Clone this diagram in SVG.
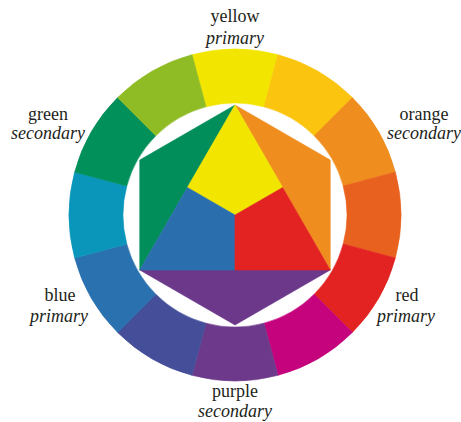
<svg xmlns="http://www.w3.org/2000/svg" width="461" height="422" viewBox="0 0 461 422">
<style>
.lbl{font-family:"Liberation Serif","Times New Roman",serif;font-size:18px;fill:#231f20;text-anchor:middle}
.it{font-style:italic}
.seg path{stroke-width:0.6;stroke-linejoin:round}
</style>
<rect width="461" height="422" fill="#ffffff"/>
<g id="ring" class="seg">
<path id="seg-yellow" d="M192.036 54.656 A166 166 0 0 1 277.964 54.656 L263.988 106.816 A112 112 0 0 0 206.012 106.816 Z" fill="#f2e500" stroke="#f2e500"/>
<path id="seg-yellow-orange" d="M277.964 54.656 A166 166 0 0 1 352.380 97.620 L314.196 135.804 A112 112 0 0 0 263.988 106.816 Z" fill="#fbc40e" stroke="#fbc40e"/>
<path id="seg-orange" d="M352.380 97.620 A166 166 0 0 1 395.344 172.036 L343.184 186.012 A112 112 0 0 0 314.196 135.804 Z" fill="#ef8e1e" stroke="#ef8e1e"/>
<path id="seg-red-orange" d="M395.344 172.036 A166 166 0 0 1 395.344 257.964 L343.184 243.988 A112 112 0 0 0 343.184 186.012 Z" fill="#e9611f" stroke="#e9611f"/>
<path id="seg-red" d="M395.344 257.964 A166 166 0 0 1 352.380 332.380 L314.196 294.196 A112 112 0 0 0 343.184 243.988 Z" fill="#e22322" stroke="#e22322"/>
<path id="seg-magenta" d="M352.380 332.380 A166 166 0 0 1 277.964 375.344 L263.988 323.184 A112 112 0 0 0 314.196 294.196 Z" fill="#c4037d" stroke="#c4037d"/>
<path id="seg-purple" d="M277.964 375.344 A166 166 0 0 1 192.036 375.344 L206.012 323.184 A112 112 0 0 0 263.988 323.184 Z" fill="#6d398b" stroke="#6d398b"/>
<path id="seg-blue-violet" d="M192.036 375.344 A166 166 0 0 1 117.620 332.380 L155.804 294.196 A112 112 0 0 0 206.012 323.184 Z" fill="#444e99" stroke="#444e99"/>
<path id="seg-blue" d="M117.620 332.380 A166 166 0 0 1 74.656 257.964 L126.816 243.988 A112 112 0 0 0 155.804 294.196 Z" fill="#2a71b0" stroke="#2a71b0"/>
<path id="seg-cyan" d="M74.656 257.964 A166 166 0 0 1 74.656 172.036 L126.816 186.012 A112 112 0 0 0 126.816 243.988 Z" fill="#0996ba" stroke="#0996ba"/>
<path id="seg-green" d="M74.656 172.036 A166 166 0 0 1 117.620 97.620 L155.804 135.804 A112 112 0 0 0 126.816 186.012 Z" fill="#018f5a" stroke="#018f5a"/>
<path id="seg-yellow-green" d="M117.620 97.620 A166 166 0 0 1 192.036 54.656 L206.012 106.816 A112 112 0 0 0 155.804 135.804 Z" fill="#8fbb25" stroke="#8fbb25"/>
</g>
<g id="hexagon" class="seg">
<path id="tri-green" d="M235 105 L139.737 160 L139.737 270 Z" fill="#018e5a" stroke="#018e5a"/>
<path id="tri-orange" d="M235 105 L330.263 160 L330.263 270 Z" fill="#ef8e1e" stroke="#ef8e1e"/>
<path id="tri-purple" d="M139.737 270 L330.263 270 L235 325 Z" fill="#6c388a" stroke="#6c388a"/>
<path id="quad-yellow" d="M235 105 L187.368 187.5 L235 215 L282.632 187.5 Z" fill="#f2e500" stroke="#f2e500"/>
<path id="quad-blue" d="M187.368 187.5 L235 215 L235 270 L139.737 270 Z" fill="#2b6ead" stroke="#2b6ead"/>
<path id="quad-red" d="M282.632 187.5 L235 215 L235 270 L330.263 270 Z" fill="#e22322" stroke="#e22322"/>
</g>
<g id="labels">
<g id="label-yellow"><text class="lbl" x="235" y="22">yellow</text><text class="lbl it" x="235" y="44">primary</text></g>
<g id="label-green"><text class="lbl" x="48" y="120">green</text><text class="lbl it" x="48" y="139">secondary</text></g>
<g id="label-orange"><text class="lbl" x="424" y="120">orange</text><text class="lbl it" x="424" y="139">secondary</text></g>
<g id="label-blue"><text class="lbl" x="60" y="301">blue</text><text class="lbl it" x="59" y="322">primary</text></g>
<g id="label-red"><text class="lbl" x="407" y="301">red</text><text class="lbl it" x="406" y="322">primary</text></g>
<g id="label-purple"><text class="lbl" x="235" y="397">purple</text><text class="lbl it" x="235" y="417">secondary</text></g>
</g>
</svg>
